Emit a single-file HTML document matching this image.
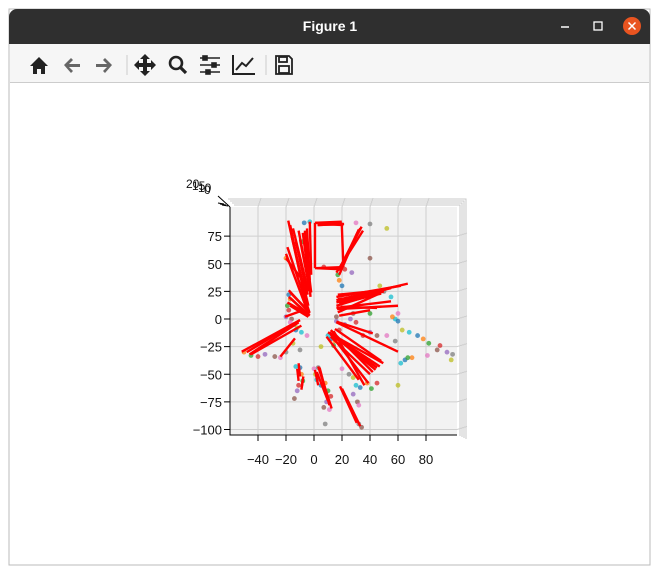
<!DOCTYPE html>
<html><head><meta charset="utf-8"><style>
body{margin:0;width:660px;height:574px;background:#fff;font-family:"Liberation Sans",sans-serif;overflow:hidden}
</style></head><body>
<svg width="660" height="574" xmlns="http://www.w3.org/2000/svg" style="position:absolute;left:0;top:0">
<rect x="9" y="9" width="641" height="556" fill="#fff" stroke="#bbb"/>
<path d="M9,17 a8,8 0 0 1 8,-8 h625 a8,8 0 0 1 8,8 v27 h-641z" fill="#2f2f2f"/>
<text x="330" y="31" text-anchor="middle" fill="#fff" font-size="14" font-weight="bold">Figure 1</text>
<line x1="561" y1="27" x2="569" y2="27" stroke="#fff" stroke-width="1.5"/>
<rect x="594" y="22" width="8" height="8" fill="none" stroke="#fff" stroke-width="1.3"/>
<circle cx="632" cy="26" r="9" fill="#e95420"/>
<path d="M628.5,22.5l7,7M635.5,22.5l-7,7" stroke="#fff" stroke-width="1.5"/>
<rect x="10" y="44" width="639" height="38" fill="#f6f6f6"/>
<line x1="10" y1="82.5" x2="649" y2="82.5" stroke="#ccc"/>
<g fill="#222">
<path d="M30,66 L39,57 L48,66 L45,66 L45,74 L41,74 L41,69 L37,69 L37,74 L33,74 L33,66Z"/>
<path d="M64,65 L71,58 L73,60 L69,64 L80,64 L80,67 L69,67 L73,71 L71,73Z" fill="#666"/>
<path d="M112,65 L105,58 L103,60 L107,64 L96,64 L96,67 L107,67 L103,71 L105,73Z" fill="#666"/>
<path d="M145,54 L150,59 L147,59 L147,63 L151,63 L151,60 L156,65 L151,70 L151,67 L147,67 L147,71 L150,71 L145,76 L140,71 L143,71 L143,67 L139,67 L139,70 L134,65 L139,60 L139,63 L143,63 L143,59 L140,59Z"/>
<g><circle cx="176" cy="63" r="6" fill="none" stroke="#222" stroke-width="2.6"/><path d="M180,67 L186,73" stroke="#222" stroke-width="3.2"/></g>
<g stroke="#222" stroke-width="1.6"><path d="M200,58h20M200,65h20M200,72h20"/><rect x="203" y="56" width="4" height="4"/><rect x="212" y="63" width="4" height="4"/><rect x="206" y="70" width="4" height="4"/></g>
<g fill="none" stroke="#222" stroke-width="2"><path d="M233,55v19h22"/><path d="M236,70l6,-7l4,3l7,-8"/></g>
<g fill="none" stroke="#222" stroke-width="1.8"><path d="M276,56h13l3,3v15h-16z"/><rect x="279" y="57" width="8" height="5"/><rect x="279" y="66" width="10" height="7"/></g>
</g>
<path d="M127,55v20M266,55v20" stroke="#ccc"/>
<g id="plot"></g>
</svg>
<script>
const xTicks=[-40,-20,0,20,40,60,80];
const yTicks=[75,50,25,0,-25,-50,-75,-100];
const zTickLabels=["20","15","10","0"];
const segX1=[-18.4,-20,-19,-15,-11,-8,-6.5,1,0.7,19.8,21,0.7,34,33,32,16,16,16,16.5,17,18,16,16,-18,-18,-19,-17,-20.7,-10,-9,-13.6,11.4,11,12,13,12,18.6,3,0.7,-11,-7.6,-3,-20,
 -17,-16,-13,-10,-7,-5,3,2.5,21,20,35,31,16,17,18,16,17,19,10,12,14,9,15,20,4,2,-48,-46,-12,-8,-17,-16];
const segY1=[89,59,65,82,80,78,80,87,87,87,47,46,83.5,82,81,17,15,12,9,6,3,-2.4,-3,26,20,15,12,2,-1,-6,-17.5,-13,-12,-14,-15,-16,-61,-43,-46,-40,-52,88,55,
 85,75,70,72,75,82,85,85,85,45,80,78,20,22,14,10,18,11,-12,-10,-11,-16,-9,-63,-44,-48,-30,-32,-45,-55,24,18];
const segX2=[-4,-4,-3.5,-4,-3,-3,-2.5,19.8,19.8,21,0.7,0.7,17.4,18,19,67,55,50,60,45,40,42,60,-3,-3,-4,-4,-7.6,-51.6,-45,-24,49.5,44,38.8,45,40,30.5,12.6,3,-10,-8.8,-2,-5,
 -5,-4,-4.5,-3,-2,-3,20.5,21.5,3,2,16,18,62,50,48,55,40,45,47,42,36,32,48,33,11,10,-10,-11,-11,-9,-3,-4];
const segY2=[6.6,5,7,25,28,30,20,87,88,47,46,87,44,45,46,32,28,25,12,22,8,-13,-29.6,5,3,4,2,8,-29.6,-32,-34,-40,-46,-58,-44,-50,-94,-81,-60,-52,-62,40,30,
 10,12,22,26,24,35,86,86,86,46,42,40,30,26,23,16,20,10,-43,-48,-60,-55,-38,-97,-78,-74,-1,-3,-56,-64,6,3];
const ptX=[-18,-17,-19,-18,-20,-16,-17,-14,-12,-9,-13,-50,-45,-40,-35,-28,-24,-20,-15,-13,-10,-9,-8,-11,-12,-14,0,3,1,2,5,8,10,12,9,7,11,8,5,10,12,15,14,18,16,16,20,25,28,30,33,38,41,45,28,31,32,32,60,62,65,70,67,35,40,45,52,58,63,68,74,78,82,90,95,88,81,99,98,58,60,56,40,30,26,28,60,50,47,55,20,18,17,22,27,40,30,40,52,-3,-7,-20,-8,7,22,34,-5,-10];
const ptY=[22,18,12,8,2,0,-3,-5,-8,-12,-10,-30,-33,-34,-32,-34,-35,-30,-22,-43,-44,-50,-56,-60,-65,-72,-45,-44,-50,-55,-60,-58,-65,-70,-75,-80,-82,-95,-25,-15,-18,-20,-24,-10,-2,2,-45,-50,-53,-60,-62,-58,-63,-58,-68,-75,-78,-95,-60,-40,-37,-35,-35,-15,-12,-15,-15,-20,-10,-12,-15,-18,-22,-24,-30,-28,-33,-32,-37,0,-2,2,5,-3,0,5,5,25,30,20,30,35,40,45,42,55,87,86,82,88,87,55,70,47,-5,-98,-15,-28];
const palette=["#1f77b4","#ff7f0e","#2ca02c","#d62728","#9467bd","#8c564b","#e377c2","#7f7f7f","#bcbd22","#17becf"];
const NS="http://www.w3.org/2000/svg";
const L=230,R=457,T=207,B=435;
const sx=v=>314+v*1.4, sy=v=>319-v*1.105;
const g=document.getElementById('plot');
function mk(tag,attrs,parent){const e=document.createElementNS(NS,tag);for(const k in attrs)e.setAttribute(k,attrs[k]);(parent||g).appendChild(e);return e;}
const pane=mk('rect',{x:L,y:T,width:R-L,height:B-T,fill:'#f2f2f2'});


for(let i=0;i<4;i++){const o=mk('path',{d:`M${L-2+i*2},${T-8+i*2}L${R+9-i*2},${T-8+i*2}L${R+9-i*2},${B+4-i}`,fill:'none',stroke:'#c8c8c8','stroke-width':1});
 
 }
xTicks.forEach(t=>{const x=sx(t);
 const gl=mk('path',{d:`M${x},${B}L${x},${T}L${x+3},${T-9}`,stroke:'#cfcfcf','stroke-width':1,fill:'none'});
 
 
 const tk=mk('line',{x1:x,y1:B,x2:x,y2:B+6,stroke:'#000'});
 
 
 const tx=mk('text',{x:x,y:B+29,'text-anchor':'middle','font-size':13,fill:'#111'});tx.textContent=(t<0?'\u2212'+(-t):t);
 
 });
yTicks.forEach(t=>{const y=sy(t);
 const gl=mk('path',{d:`M${L},${y}L${R},${y}L${R+10},${y-3}`,stroke:'#cfcfcf','stroke-width':1,fill:'none'});
 
 
 const tk=mk('line',{x1:L-6,y1:y,x2:L,y2:y,stroke:'#000'});
 
 
 const tx=mk('text',{x:L-8,y:y+5,'text-anchor':'end','font-size':13,fill:'#111'});tx.textContent=(t<0?'\u2212'+(-t):t);
 
 });
const ax=mk('path',{d:`M${L},${T}L${L},${B}L${R},${B}`,stroke:'#000',fill:'none','stroke-width':1});


const zax=mk('path',{d:`M${L},${T}L${L-12},${T-11}M${L-6},${T-3}l-6,-1M${L-4},${T-2}l-6,-1M${L-2},${T-1}l-6,-1`,stroke:'#000',fill:'none'});


zTickLabels.forEach((s,i)=>{const tx=mk('text',{x:186+i*6,y:188+i*2,'font-size':12,fill:'#111'});tx.textContent=s;
 
 });
const nPts=Math.min(ptX.length,ptY.length);
for(let i=0;i<nPts;i++){const c=mk('circle',{cx:sx(ptX[i]),cy:sy(ptY[i]),r:2.4,fill:palette[i%10],'fill-opacity':0.75});
 
 }
const nSeg=Math.min(segX1.length,segY1.length,segX2.length,segY2.length);
for(let i=0;i<nSeg;i++){const l=mk('line',{x1:sx(segX1[i]),y1:sy(segY1[i]),x2:sx(segX2[i]),y2:sy(segY2[i]),stroke:'#ff0000','stroke-width':2.4});
 
 }
</script>
</body></html>
